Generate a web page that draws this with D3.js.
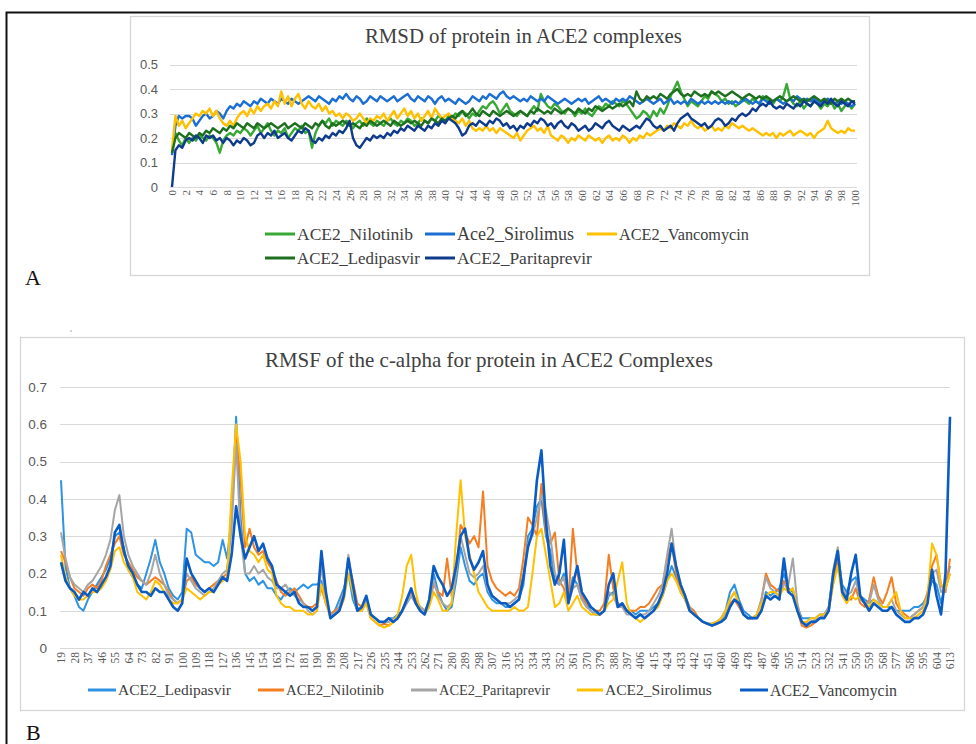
<!DOCTYPE html>
<html><head><meta charset="utf-8">
<script src="https://cdn.jsdelivr.net/npm/d3@7"></script>
<style>html,body{margin:0;padding:0;background:#fff;}svg{display:block;}
.serif{font-family:"Liberation Serif","Times New Roman",Tinos,"DejaVu Serif",serif;}
.sans{font-family:"Liberation Sans",Arial,"DejaVu Sans",sans-serif;}
</style>
</head><body>
<script>
// ---------- Panel A data : RMSD (nm) sampled every 0.5 ns, 0..100 ns ----------
const rmsdStep = 0.5;
const rmsdTicks = [0,2,4,6,8,10,12,14,16,18,20,22,24,26,28,30,32,34,36,38,40,42,44,46,48,50,52,54,56,58,60,62,64,66,68,70,72,74,76,78,80,82,84,86,88,90,92,94,96,98,100];
const rmsdYTicks = [0,0.1,0.2,0.3,0.4,0.5];
const rmsdNames = ["ACE2_Nilotinib","Ace2_Sirolimus","ACE2_Vancomycin","ACE2_Ledipasvir","ACE2_Paritaprevir"];
const rmsdNilotinib = [0.14,0.22,0.19,0.17,0.2,0.18,0.2,0.19,0.21,0.2,
0.19,0.21,0.2,0.18,0.14,0.19,0.21,0.22,0.21,0.23,
0.22,0.24,0.23,0.21,0.23,0.25,0.22,0.24,0.26,0.23,
0.21,0.23,0.22,0.24,0.2,0.22,0.24,0.23,0.25,0.22,
0.23,0.16,0.22,0.25,0.27,0.26,0.28,0.25,0.27,0.26,
0.25,0.27,0.26,0.24,0.26,0.27,0.25,0.28,0.26,0.25,
0.27,0.26,0.25,0.27,0.28,0.26,0.25,0.27,0.26,0.28,
0.27,0.25,0.26,0.28,0.27,0.26,0.28,0.27,0.29,0.28,
0.27,0.29,0.28,0.3,0.29,0.31,0.3,0.28,0.3,0.29,
0.31,0.33,0.32,0.34,0.35,0.33,0.3,0.32,0.34,0.31,
0.3,0.29,0.31,0.3,0.29,0.31,0.33,0.31,0.38,0.35,
0.33,0.32,0.34,0.33,0.31,0.3,0.32,0.31,0.29,0.31,
0.3,0.32,0.3,0.29,0.31,0.33,0.32,0.34,0.33,0.35,
0.34,0.33,0.35,0.34,0.32,0.3,0.28,0.29,0.31,0.3,
0.28,0.31,0.29,0.32,0.3,0.33,0.37,0.4,0.43,0.39,
0.36,0.33,0.35,0.34,0.33,0.35,0.37,0.36,0.39,0.38,
0.37,0.35,0.36,0.34,0.35,0.33,0.34,0.36,0.35,0.34,
0.36,0.35,0.34,0.37,0.36,0.35,0.34,0.36,0.35,0.37,
0.42,0.36,0.34,0.33,0.35,0.32,0.34,0.33,0.35,0.34,
0.32,0.34,0.33,0.35,0.32,0.34,0.31,0.33,0.34,0.32,
0.34];
const rmsdSirolimus = [0.13,0.25,0.29,0.28,0.29,0.29,0.28,0.25,0.27,0.29,
0.3,0.28,0.29,0.31,0.3,0.28,0.31,0.33,0.32,0.34,
0.33,0.35,0.34,0.33,0.35,0.34,0.36,0.35,0.34,0.36,
0.35,0.34,0.36,0.35,0.34,0.36,0.35,0.34,0.35,0.36,
0.37,0.36,0.35,0.37,0.36,0.35,0.34,0.36,0.35,0.37,
0.36,0.38,0.36,0.35,0.37,0.36,0.34,0.35,0.37,0.36,
0.35,0.37,0.36,0.35,0.36,0.37,0.35,0.36,0.37,0.38,
0.36,0.35,0.37,0.36,0.35,0.37,0.36,0.34,0.36,0.37,
0.35,0.36,0.35,0.34,0.36,0.35,0.34,0.35,0.37,0.36,
0.35,0.37,0.36,0.38,0.37,0.36,0.38,0.39,0.37,0.36,
0.37,0.36,0.35,0.36,0.35,0.37,0.36,0.35,0.36,0.35,
0.37,0.36,0.35,0.34,0.35,0.36,0.35,0.34,0.35,0.36,
0.35,0.36,0.34,0.35,0.36,0.37,0.35,0.36,0.35,0.34,
0.36,0.35,0.36,0.35,0.37,0.36,0.35,0.34,0.35,0.36,
0.35,0.34,0.35,0.36,0.34,0.35,0.36,0.34,0.35,0.34,
0.35,0.34,0.36,0.35,0.34,0.35,0.34,0.35,0.34,0.35,
0.34,0.35,0.34,0.35,0.34,0.35,0.34,0.35,0.36,0.35,
0.34,0.35,0.34,0.36,0.35,0.34,0.35,0.36,0.35,0.34,
0.35,0.36,0.35,0.37,0.36,0.35,0.36,0.35,0.36,0.35,
0.34,0.35,0.36,0.35,0.34,0.35,0.34,0.35,0.34,0.33,
0.34];
const rmsdVancomycin = [0.15,0.29,0.25,0.27,0.24,0.26,0.28,0.3,0.29,0.31,
0.3,0.32,0.29,0.31,0.28,0.26,0.25,0.27,0.25,0.28,
0.3,0.31,0.29,0.32,0.3,0.33,0.31,0.33,0.34,0.32,
0.35,0.33,0.39,0.34,0.37,0.33,0.36,0.38,0.34,0.32,
0.35,0.33,0.32,0.34,0.31,0.33,0.3,0.31,0.29,0.3,
0.28,0.3,0.29,0.27,0.28,0.3,0.28,0.26,0.28,0.27,
0.29,0.28,0.3,0.27,0.29,0.31,0.28,0.3,0.32,0.29,
0.31,0.28,0.3,0.27,0.29,0.31,0.28,0.32,0.3,0.28,
0.29,0.3,0.28,0.27,0.26,0.28,0.25,0.27,0.24,0.23,
0.24,0.23,0.25,0.23,0.24,0.22,0.24,0.23,0.22,0.21,
0.2,0.22,0.19,0.21,0.23,0.24,0.25,0.23,0.24,0.22,
0.25,0.21,0.2,0.19,0.21,0.2,0.18,0.2,0.19,0.21,
0.2,0.19,0.21,0.2,0.19,0.2,0.18,0.2,0.21,0.19,
0.2,0.19,0.21,0.2,0.18,0.2,0.19,0.21,0.2,0.22,
0.21,0.22,0.23,0.24,0.23,0.25,0.24,0.26,0.25,0.24,
0.26,0.25,0.27,0.25,0.24,0.25,0.23,0.24,0.25,0.23,
0.24,0.23,0.25,0.24,0.26,0.25,0.24,0.25,0.24,0.23,
0.24,0.23,0.22,0.21,0.22,0.21,0.22,0.2,0.22,0.21,
0.22,0.23,0.21,0.22,0.23,0.22,0.21,0.22,0.2,0.22,
0.23,0.24,0.27,0.24,0.23,0.22,0.23,0.22,0.24,0.23,
0.23];
const rmsdLedipasvir = [0.14,0.2,0.22,0.21,0.2,0.22,0.21,0.2,0.22,0.21,
0.23,0.22,0.24,0.23,0.22,0.24,0.23,0.25,0.24,0.26,
0.25,0.24,0.26,0.25,0.24,0.26,0.25,0.24,0.25,0.26,
0.25,0.24,0.25,0.26,0.24,0.25,0.26,0.25,0.24,0.26,
0.25,0.24,0.26,0.25,0.27,0.25,0.24,0.26,0.25,0.26,
0.27,0.26,0.25,0.26,0.25,0.24,0.26,0.25,0.27,0.26,
0.25,0.26,0.27,0.26,0.25,0.27,0.26,0.25,0.26,0.27,
0.26,0.27,0.26,0.25,0.27,0.26,0.28,0.27,0.26,0.28,
0.27,0.28,0.29,0.28,0.3,0.31,0.29,0.3,0.32,0.3,
0.29,0.31,0.3,0.29,0.31,0.3,0.29,0.3,0.31,0.3,
0.29,0.3,0.31,0.3,0.29,0.31,0.3,0.32,0.31,0.3,
0.31,0.3,0.32,0.31,0.3,0.31,0.32,0.31,0.3,0.32,
0.31,0.3,0.32,0.31,0.33,0.32,0.31,0.32,0.33,0.32,
0.33,0.34,0.33,0.34,0.35,0.33,0.39,0.36,0.35,0.37,
0.36,0.37,0.36,0.38,0.37,0.36,0.38,0.39,0.4,0.38,
0.37,0.38,0.37,0.39,0.38,0.37,0.38,0.37,0.39,0.38,
0.39,0.38,0.37,0.38,0.39,0.38,0.37,0.36,0.37,0.38,
0.37,0.36,0.37,0.36,0.37,0.36,0.35,0.36,0.37,0.36,
0.35,0.36,0.37,0.36,0.35,0.36,0.35,0.36,0.37,0.36,
0.35,0.36,0.35,0.34,0.36,0.35,0.36,0.35,0.36,0.35,
0.35];
const rmsdParitaprevir = [0,0.15,0.17,0.16,0.19,0.2,0.19,0.21,0.2,0.18,
0.21,0.2,0.21,0.19,0.2,0.18,0.2,0.19,0.17,0.19,
0.18,0.2,0.19,0.17,0.18,0.21,0.22,0.2,0.22,0.21,
0.23,0.2,0.21,0.22,0.2,0.19,0.21,0.23,0.22,0.24,
0.23,0.19,0.18,0.2,0.19,0.21,0.2,0.22,0.21,0.23,
0.22,0.24,0.27,0.2,0.17,0.16,0.18,0.2,0.19,0.21,
0.2,0.21,0.2,0.22,0.21,0.23,0.22,0.24,0.23,0.25,
0.24,0.23,0.25,0.24,0.23,0.25,0.24,0.26,0.25,0.27,
0.26,0.28,0.27,0.26,0.24,0.21,0.22,0.25,0.26,0.25,
0.27,0.26,0.25,0.27,0.26,0.28,0.27,0.25,0.26,0.24,
0.25,0.23,0.25,0.24,0.26,0.25,0.27,0.26,0.28,0.27,
0.25,0.26,0.24,0.26,0.27,0.25,0.24,0.26,0.25,0.23,
0.24,0.25,0.23,0.24,0.26,0.25,0.24,0.26,0.27,0.25,
0.24,0.23,0.25,0.24,0.23,0.24,0.25,0.24,0.26,0.28,
0.27,0.25,0.24,0.25,0.23,0.24,0.25,0.23,0.26,0.28,
0.29,0.3,0.28,0.27,0.26,0.25,0.26,0.24,0.25,0.27,
0.28,0.27,0.25,0.26,0.28,0.27,0.29,0.3,0.29,0.3,
0.32,0.31,0.33,0.34,0.33,0.35,0.33,0.32,0.33,0.32,
0.34,0.33,0.32,0.34,0.33,0.35,0.34,0.33,0.35,0.34,
0.33,0.35,0.34,0.36,0.34,0.33,0.35,0.34,0.33,0.35,
0.34];

// ---------- Panel B data : RMSF (nm) per residue, every 3rd residue 19..613 ----------
const rmsfFirstResidue = 19;
const rmsfStep = 3;
const rmsfTicks = [19,28,37,46,55,64,73,82,91,100,109,118,127,136,145,154,163,172,181,190,199,208,217,226,235,244,253,262,271,280,289,298,307,316,325,334,343,352,361,370,379,388,397,406,415,424,433,442,451,460,469,478,487,496,505,514,523,532,541,550,559,568,577,586,595,604,613];
const rmsfYTicks = [0,0.1,0.2,0.3,0.4,0.5,0.6,0.7];
const rmsfNames = ["ACE2_Ledipasvir","ACE2_Nilotinib","ACE2_Paritaprevir","ACE2_Sirolimus","ACE2_Vancomycin"];
const rmsfLedipasvir = [0.45,0.22,0.16,0.14,0.11,0.1,0.13,0.15,0.17,0.19,
0.21,0.24,0.3,0.31,0.27,0.21,0.19,0.17,0.16,0.2,
0.24,0.29,0.23,0.2,0.16,0.14,0.13,0.15,0.32,0.31,
0.25,0.24,0.23,0.23,0.22,0.23,0.29,0.24,0.35,0.62,
0.35,0.2,0.18,0.19,0.17,0.18,0.16,0.16,0.14,0.13,
0.15,0.16,0.15,0.16,0.17,0.16,0.17,0.17,0.18,0.12,
0.09,0.1,0.13,0.16,0.2,0.13,0.1,0.1,0.13,0.09,
0.08,0.07,0.07,0.08,0.08,0.09,0.1,0.12,0.14,0.12,
0.11,0.1,0.12,0.2,0.15,0.12,0.1,0.11,0.18,0.27,
0.22,0.18,0.17,0.19,0.2,0.15,0.13,0.12,0.12,0.11,
0.11,0.12,0.13,0.17,0.3,0.32,0.38,0.4,0.3,0.26,
0.18,0.17,0.2,0.13,0.19,0.17,0.13,0.12,0.1,0.09,
0.09,0.1,0.14,0.15,0.12,0.11,0.1,0.1,0.09,0.1,
0.1,0.1,0.11,0.12,0.14,0.18,0.22,0.19,0.15,0.13,
0.1,0.09,0.08,0.07,0.065,0.065,0.07,0.08,0.1,0.15,
0.17,0.13,0.1,0.09,0.08,0.08,0.1,0.15,0.14,0.15,
0.16,0.2,0.16,0.15,0.11,0.08,0.08,0.08,0.08,0.09,
0.09,0.11,0.2,0.25,0.17,0.15,0.18,0.19,0.14,0.13,
0.12,0.13,0.12,0.11,0.11,0.11,0.1,0.1,0.1,0.1,
0.11,0.11,0.12,0.14,0.18,0.17,0.12,0.17,0.22];
const rmsfNilotinib = [0.26,0.23,0.19,0.16,0.15,0.14,0.16,0.17,0.16,0.18,
0.22,0.25,0.28,0.3,0.25,0.23,0.21,0.19,0.18,0.17,
0.18,0.19,0.18,0.17,0.15,0.13,0.12,0.13,0.18,0.19,
0.17,0.16,0.15,0.16,0.17,0.18,0.19,0.2,0.35,0.58,
0.45,0.27,0.32,0.27,0.25,0.26,0.23,0.21,0.18,0.15,
0.14,0.15,0.16,0.14,0.12,0.11,0.11,0.12,0.16,0.12,
0.09,0.1,0.11,0.15,0.23,0.18,0.12,0.11,0.12,0.08,
0.07,0.06,0.065,0.06,0.07,0.08,0.1,0.13,0.15,0.13,
0.11,0.1,0.12,0.17,0.15,0.14,0.24,0.14,0.2,0.33,
0.31,0.28,0.3,0.27,0.42,0.22,0.18,0.16,0.15,0.14,
0.15,0.14,0.16,0.24,0.35,0.33,0.3,0.44,0.31,0.28,
0.31,0.18,0.16,0.12,0.32,0.2,0.14,0.12,0.11,0.1,
0.1,0.12,0.25,0.16,0.12,0.11,0.1,0.1,0.1,0.11,
0.11,0.12,0.14,0.16,0.17,0.24,0.28,0.2,0.16,0.14,
0.11,0.1,0.08,0.07,0.065,0.06,0.065,0.07,0.09,0.12,
0.13,0.11,0.09,0.08,0.08,0.09,0.13,0.2,0.17,0.16,
0.15,0.18,0.15,0.16,0.1,0.06,0.055,0.06,0.07,0.08,
0.09,0.1,0.18,0.24,0.15,0.13,0.13,0.16,0.12,0.11,
0.13,0.19,0.14,0.12,0.15,0.19,0.12,0.1,0.09,0.08,
0.09,0.1,0.11,0.15,0.22,0.25,0.17,0.15,0.24];
const rmsfParitaprevir = [0.31,0.24,0.19,0.17,0.16,0.15,0.17,0.18,0.2,0.22,
0.25,0.29,0.37,0.41,0.3,0.25,0.22,0.2,0.18,0.17,
0.2,0.25,0.2,0.17,0.14,0.13,0.12,0.13,0.2,0.18,
0.16,0.15,0.14,0.15,0.16,0.18,0.2,0.21,0.32,0.55,
0.3,0.2,0.2,0.22,0.2,0.21,0.19,0.18,0.16,0.16,
0.17,0.15,0.14,0.13,0.12,0.1,0.09,0.1,0.22,0.13,
0.09,0.09,0.11,0.15,0.25,0.17,0.11,0.1,0.13,0.09,
0.08,0.07,0.07,0.07,0.08,0.08,0.1,0.12,0.14,0.12,
0.11,0.1,0.12,0.18,0.14,0.12,0.11,0.12,0.2,0.3,
0.25,0.2,0.19,0.2,0.22,0.16,0.14,0.13,0.12,0.12,
0.12,0.13,0.14,0.2,0.28,0.3,0.35,0.41,0.37,0.3,
0.2,0.17,0.19,0.12,0.16,0.17,0.13,0.11,0.1,0.09,
0.09,0.1,0.15,0.14,0.11,0.11,0.09,0.09,0.08,0.09,
0.09,0.1,0.12,0.14,0.17,0.25,0.32,0.22,0.17,0.14,
0.11,0.09,0.08,0.07,0.065,0.065,0.07,0.075,0.09,0.13,
0.15,0.12,0.09,0.08,0.08,0.09,0.13,0.19,0.16,0.15,
0.14,0.17,0.17,0.24,0.12,0.07,0.065,0.07,0.075,0.08,
0.09,0.11,0.21,0.27,0.16,0.14,0.15,0.18,0.13,0.12,
0.12,0.17,0.13,0.11,0.11,0.13,0.1,0.09,0.08,0.08,
0.09,0.1,0.11,0.14,0.2,0.21,0.15,0.16,0.2];
const rmsfSirolimus = [0.25,0.19,0.16,0.14,0.13,0.13,0.14,0.15,0.15,0.16,
0.18,0.21,0.26,0.27,0.23,0.21,0.19,0.15,0.14,0.13,
0.15,0.18,0.17,0.15,0.13,0.12,0.12,0.13,0.16,0.15,
0.14,0.13,0.14,0.15,0.15,0.17,0.18,0.19,0.42,0.6,
0.5,0.3,0.26,0.25,0.23,0.25,0.21,0.2,0.14,0.12,
0.11,0.11,0.1,0.1,0.1,0.09,0.09,0.1,0.17,0.12,
0.08,0.09,0.1,0.13,0.2,0.15,0.1,0.1,0.12,0.08,
0.07,0.06,0.055,0.06,0.07,0.09,0.14,0.22,0.25,0.15,
0.1,0.09,0.11,0.15,0.13,0.1,0.1,0.12,0.3,0.45,
0.3,0.25,0.2,0.15,0.13,0.11,0.1,0.1,0.1,0.1,
0.1,0.11,0.1,0.1,0.11,0.2,0.3,0.32,0.25,0.18,
0.11,0.12,0.15,0.1,0.12,0.14,0.11,0.1,0.09,0.09,
0.09,0.1,0.12,0.13,0.18,0.23,0.12,0.09,0.08,0.07,
0.08,0.09,0.1,0.11,0.14,0.18,0.2,0.18,0.15,0.13,
0.1,0.09,0.08,0.07,0.065,0.065,0.07,0.08,0.1,0.13,
0.15,0.12,0.09,0.08,0.08,0.09,0.12,0.14,0.15,0.15,
0.14,0.16,0.15,0.16,0.1,0.07,0.07,0.08,0.08,0.09,
0.09,0.1,0.17,0.22,0.14,0.12,0.14,0.13,0.14,0.12,
0.11,0.13,0.12,0.11,0.11,0.13,0.15,0.1,0.08,0.08,
0.08,0.09,0.1,0.14,0.28,0.25,0.17,0.16,0.2];
const rmsfVancomycin = [0.23,0.18,0.16,0.15,0.13,0.15,0.14,0.16,0.15,0.17,
0.19,0.22,0.31,0.33,0.26,0.22,0.2,0.17,0.15,0.15,
0.14,0.16,0.15,0.15,0.13,0.11,0.1,0.12,0.24,0.2,
0.18,0.16,0.15,0.16,0.15,0.17,0.19,0.18,0.25,0.38,
0.3,0.24,0.27,0.3,0.26,0.28,0.24,0.22,0.17,0.16,
0.15,0.14,0.15,0.12,0.11,0.11,0.1,0.11,0.26,0.15,
0.08,0.09,0.1,0.14,0.24,0.17,0.1,0.11,0.14,0.09,
0.08,0.07,0.07,0.08,0.07,0.08,0.1,0.13,0.16,0.12,
0.1,0.09,0.13,0.22,0.19,0.17,0.14,0.16,0.22,0.3,
0.32,0.24,0.21,0.23,0.26,0.17,0.14,0.13,0.12,0.12,
0.11,0.12,0.13,0.19,0.27,0.31,0.45,0.53,0.34,0.22,
0.17,0.2,0.29,0.12,0.17,0.22,0.15,0.13,0.11,0.1,
0.09,0.1,0.17,0.2,0.11,0.12,0.1,0.09,0.08,0.09,
0.08,0.09,0.1,0.12,0.15,0.2,0.28,0.22,0.17,0.14,
0.1,0.09,0.08,0.07,0.065,0.06,0.065,0.07,0.08,0.11,
0.13,0.12,0.09,0.08,0.08,0.08,0.1,0.14,0.13,0.14,
0.13,0.24,0.15,0.14,0.1,0.07,0.06,0.07,0.07,0.08,
0.08,0.1,0.2,0.26,0.15,0.13,0.2,0.25,0.14,0.12,
0.1,0.12,0.11,0.1,0.1,0.11,0.09,0.08,0.07,0.07,
0.08,0.08,0.09,0.12,0.21,0.14,0.09,0.2,0.62];

// ---------- drawing ----------
const W = 976, H = 744;
const txt = "#595959", grid = "#d9d9d9";

const svg = d3.select("body").append("svg").attr("width", W).attr("height", H);
svg.append("rect").attr("width", W).attr("height", H).attr("fill", "#fff");
svg.append("path").attr("d", `M${W+2},12.5 H6.5 V${H+2}`).attr("fill","none").attr("stroke","#111").attr("stroke-width",2);

function fitText(sel, target) {
  const w = sel.node().getComputedTextLength();
  const fs = parseFloat(sel.style("font-size"));
  sel.style("font-size", (fs * target / w).toFixed(2) + "px");
  return sel;
}

function panel(cfg) {
  const g = svg.append("g");
  g.append("rect").attr("x", cfg.box[0]+0.5).attr("y", cfg.box[1]+0.5)
    .attr("width", cfg.box[2]-cfg.box[0]).attr("height", cfg.box[3]-cfg.box[1])
    .attr("fill", "#fff").attr("stroke", "#d6d6d6").attr("stroke-width", 1.3);

  const x = d3.scaleLinear().domain(cfg.xDomain).range(cfg.xRange);
  const y = d3.scaleLinear().domain(cfg.yDomain).range(cfg.yRange);

  g.append("g").selectAll("line").data(cfg.yTicks).join("line")
    .attr("x1", cfg.gridX[0]).attr("x2", cfg.gridX[1])
    .attr("y1", d => Math.round(y(d))+0.5).attr("y2", d => Math.round(y(d))+0.5)
    .attr("stroke", grid).attr("stroke-width", 1);

  const ya = g.append("g").attr("transform", `translate(${cfg.yLabelX},0)`)
    .call(d3.axisLeft(y).tickValues(cfg.yTicks).tickSize(0).tickPadding(0).tickFormat(d3.format("~g")));
  ya.select(".domain").remove();
  ya.attr("font-family", null).attr("font-size", null);
  ya.selectAll("text").attr("class", "sans").style("font-size", cfg.yFont + "px").attr("fill", txt);

  const xa = g.append("g").attr("transform", `translate(0,${cfg.xLabelY})`)
    .call(d3.axisBottom(x).tickValues(cfg.xTicks).tickSize(0).tickPadding(0).tickFormat(d3.format("d")));
  xa.select(".domain").remove();
  xa.attr("font-family", null).attr("font-size", null);
  xa.selectAll("text").attr("class", "serif").style("font-size", cfg.xFont + "px").attr("fill", txt)
    .attr("transform", "rotate(-90)").attr("text-anchor", "end").attr("x", 0).attr("y", 0).attr("dy", "0.33em");

  const line = d3.line().x((d, i) => x(cfg.xOf(i))).y(d => y(d));
  cfg.series.forEach(s => {
    g.append("path").datum(s.values).attr("d", line).attr("fill", "none")
      .attr("stroke", s.color).attr("stroke-width", s.width).attr("stroke-linejoin", "round");
  });

  const t = g.append("text").attr("class", "serif").attr("x", cfg.title.x).attr("y", cfg.title.y)
    .style("font-size", "18px").attr("fill", "#404040").text(cfg.title.text);
  fitText(t, cfg.title.w);

  cfg.legend.forEach(it => {
    const s = cfg.series.find(v => v.name === it.name);
    g.append("line").attr("x1", it.x).attr("x2", it.x + it.len).attr("y1", it.y).attr("y2", it.y)
      .attr("stroke", s.color).attr("stroke-width", 3);
    const lt = g.append("text").attr("class", "serif").attr("x", it.x + it.len + 2).attr("y", it.y).attr("dy", "0.35em")
      .style("font-size", "14px").attr("fill", "#404040").text(it.name);
    fitText(lt, it.w);
  });
}

panel({
  box: [130, 16, 869, 275],
  xDomain: [0, 100], xRange: [172, 855], gridX: [170, 857],
  yDomain: [0, 0.5], yRange: [187, 64.5], yTicks: rmsdYTicks,
  yLabelX: 158, yFont: 13, xLabelY: 190, xFont: 11, xTicks: rmsdTicks,
  xOf: i => i * rmsdStep,
  series: [
    {name: rmsdNames[0], values: rmsdNilotinib, color: "#39a935", width: 2.4},
    {name: rmsdNames[1], values: rmsdSirolimus, color: "#1b6fd2", width: 2.4},
    {name: rmsdNames[2], values: rmsdVancomycin, color: "#ffc000", width: 2.4},
    {name: rmsdNames[3], values: rmsdLedipasvir, color: "#1e7020", width: 2.4},
    {name: rmsdNames[4], values: rmsdParitaprevir, color: "#0e3b8c", width: 2.4}
  ],
  title: {text: "RMSD  of protein in ACE2 complexes", x: 365, y: 43, w: 317},
  legend: [
    {name: rmsdNames[0], x: 265, y: 234, len: 30, w: 116},
    {name: rmsdNames[1], x: 425, y: 234, len: 30, w: 117},
    {name: rmsdNames[2], x: 587, y: 234, len: 30, w: 130},
    {name: rmsdNames[3], x: 265, y: 258, len: 30, w: 123},
    {name: rmsdNames[4], x: 425, y: 258, len: 30, w: 135}
  ]
});

panel({
  box: [20, 337, 964, 710],
  xDomain: [19, 613], xRange: [61, 950], gridX: [60, 950],
  yDomain: [0, 0.7], yRange: [648, 387], yTicks: rmsfYTicks,
  yLabelX: 47, yFont: 13.5, xLabelY: 652, xFont: 11.5, xTicks: rmsfTicks,
  xOf: i => rmsfFirstResidue + i * rmsfStep,
  series: [
    {name: rmsfNames[0], values: rmsfLedipasvir, color: "#2e93e3", width: 2},
    {name: rmsfNames[1], values: rmsfNilotinib, color: "#f47e22", width: 2},
    {name: rmsfNames[2], values: rmsfParitaprevir, color: "#a5a5a5", width: 2},
    {name: rmsfNames[3], values: rmsfSirolimus, color: "#ffc000", width: 2},
    {name: rmsfNames[4], values: rmsfVancomycin, color: "#0a5cc4", width: 2.6}
  ],
  title: {text: "RMSF of the c-alpha for protein in ACE2 Complexes", x: 265, y: 367, w: 448},
  legend: [
    {name: rmsfNames[0], x: 88, y: 690, len: 28, w: 113},
    {name: rmsfNames[1], x: 258, y: 690, len: 26, w: 98},
    {name: rmsfNames[2], x: 411, y: 690, len: 26, w: 111},
    {name: rmsfNames[3], x: 577, y: 690, len: 26, w: 107},
    {name: rmsfNames[4], x: 740, y: 690, len: 28, w: 127}
  ]
});

svg.append("circle").attr("cx", 71).attr("cy", 331).attr("r", 0.8).attr("fill", "#999");
svg.append("text").attr("class", "serif").attr("x", 25).attr("y", 285).style("font-size", "22px").attr("fill", "#111").text("A");
svg.append("text").attr("class", "serif").attr("x", 26).attr("y", 740).style("font-size", "22px").attr("fill", "#111").text("B");
</script>
</body></html>
